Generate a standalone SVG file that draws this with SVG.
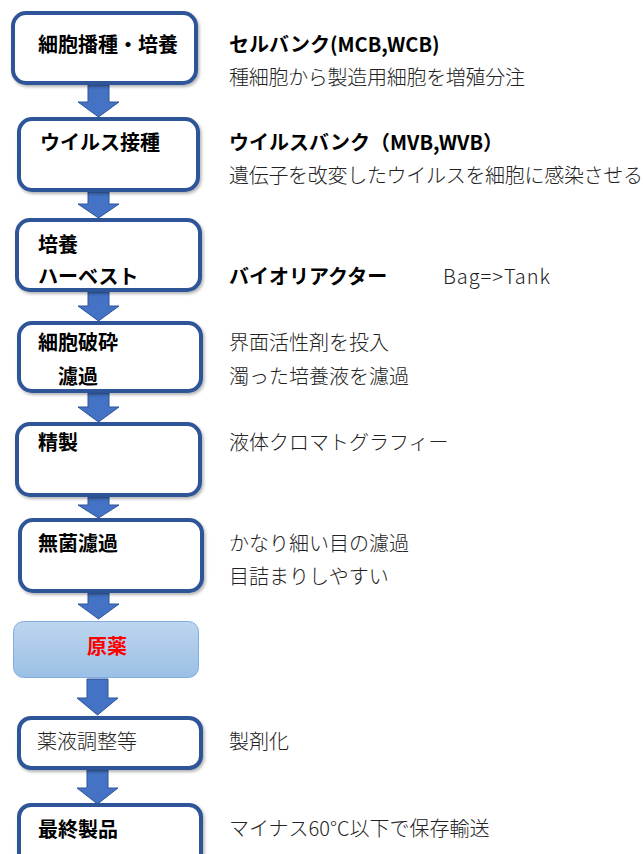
<svg xmlns="http://www.w3.org/2000/svg" width="643" height="854" viewBox="0 0 643 854">
<style>
.box{fill:#fff;stroke:#2F5597;stroke-width:4;filter:url(#sh)}
.arr{fill:#4472C4;stroke:#2F5597;stroke-width:1}
.lb{font-family:"Noto Sans CJK JP","Noto Sans",sans-serif;font-size:20px;font-weight:bold;fill:#000}
.rb{font-family:"Noto Sans CJK JP","Noto Sans",sans-serif;font-size:20px;font-weight:bold;fill:#000}
.rt{font-family:"Noto Sans CJK JP","Noto Sans",sans-serif;font-size:20px;font-weight:300;fill:#222}
</style>
<defs>
<filter id="sh" x="-10%" y="-10%" width="125%" height="130%">
<feDropShadow dx="1.5" dy="2" stdDeviation="1.5" flood-color="#000" flood-opacity="0.3"/>
</filter>
<linearGradient id="g7" x1="0" y1="0" x2="0" y2="1">
<stop offset="0" stop-color="#BDD5EE"/>
<stop offset="1" stop-color="#9BC0E6"/>
</linearGradient>
</defs>
<g id="connectors">
<polygon class="arr" points="88,85 109,85 109,102 119,102 98.5,117 78,102 88,102"/>
<polygon class="arr" points="88,192 109,192 109,204 119,204 98.5,218 78,204 88,204"/>
<polygon class="arr" points="88,292 109,292 109,306 119,306 98.5,321 78,306 88,306"/>
<polygon class="arr" points="88,393 109,393 109,407 119,407 98.5,422 78,407 88,407"/>
<polygon class="arr" points="88,497 109,497 109,505 119,505 98.5,518 78,505 88,505"/>
<polygon class="arr" points="88,593 109,593 109,604 119,604 98.5,619 78,604 88,604"/>
<polygon class="arr" points="87,679 108,679 108,698 118,698 97.5,715 77,698 87,698"/>
<polygon class="arr" points="87,770 108,770 108,788 118,788 97.5,804 77,788 87,788"/>
</g>
<g id="n1"><rect class="box" x="13" y="13" width="183" height="70" rx="13"/><text class="lb" x="38" y="52">細胞播種・培養</text></g>
<g id="n2"><rect class="box" x="19" y="119" width="179" height="71" rx="13"/><text class="lb" x="40" y="150">ウイルス接種</text></g>
<g id="n3"><rect class="box" x="17" y="220" width="183" height="70" rx="13"/><text class="lb" x="38" y="252">培養</text><text class="lb" x="38" y="284">ハーベスト</text></g>
<g id="n4"><rect class="box" x="19" y="323" width="182" height="68" rx="13"/><text class="lb" x="38" y="350">細胞破砕</text><text class="lb" x="58" y="384">濾過</text></g>
<g id="n5"><rect class="box" x="17" y="424" width="183" height="71" rx="13"/><text class="lb" x="38" y="450">精製</text></g>
<g id="n6"><rect class="box" x="20" y="520" width="182" height="71" rx="13"/><text class="lb" x="38" y="551">無菌濾過</text></g>
<g id="n7"><rect x="13.5" y="621.5" width="185" height="56" rx="10" fill="url(#g7)" stroke="#7FAEE0" stroke-width="1"/><text class="lb" x="107" y="654" text-anchor="middle" style="fill:#FF0000">原薬</text></g>
<g id="n8"><rect class="box" x="19" y="718" width="182" height="50" rx="12"/><text class="rt" x="37" y="749">薬液調整等</text></g>
<g id="n9"><rect class="box" x="19" y="805" width="182" height="62" rx="12"/><text class="lb" x="38" y="837">最終製品</text></g>
<g id="notes">
<text class="rb" x="229" y="52">セルバンク(MCB,WCB)</text>
<text class="rt" x="229" y="85" textLength="296">種細胞から製造用細胞を増殖分注</text>
<text class="rb" x="229" y="150">ウイルスバンク（MVB,WVB）</text>
<text class="rt" x="229" y="183" textLength="414">遺伝子を改変したウイルスを細胞に感染させる</text>
<text class="rb" x="229" y="284">バイオリアクター</text>
<text class="rt" x="443" y="284" textLength="107">Bag=&gt;Tank</text>
<text class="rt" x="229" y="350">界面活性剤を投入</text>
<text class="rt" x="229" y="384">濁った培養液を濾過</text>
<text class="rt" x="229" y="450">液体クロマトグラフィー</text>
<text class="rt" x="229" y="551">かなり細い目の濾過</text>
<text class="rt" x="229" y="584">目詰まりしやすい</text>
<text class="rt" x="229" y="749">製剤化</text>
<text class="rt" x="229" y="836">マイナス60°C以下で保存輸送</text>
</g>
</svg>
